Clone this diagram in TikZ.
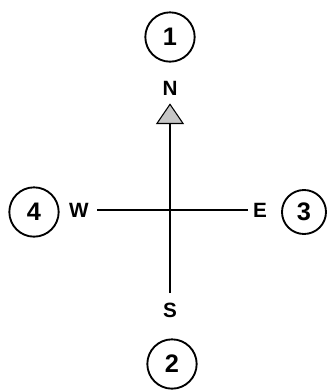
\documentclass[tikz,border=0pt]{standalone}
\usepackage{fontspec}
\setsansfont{Liberation Sans}
\usetikzlibrary{arrows.meta}

\begin{document}
\begin{tikzpicture}[
  x=0.75pt, y=-0.75pt,
  marker/.style={circle, draw, line width=1.4pt, minimum size=37pt, inner sep=0pt,
                 font=\sffamily\bfseries\fontsize{19}{19}\selectfont},
  dir/.style={inner sep=1pt, font=\sffamily\bfseries\fontsize{15.5}{15.5}\selectfont},
  axis/.style={line width=1.1pt},
  arrow/.style={-{Triangle[length=15.5pt, width=21pt, fill=gray!45, line width=0.8pt]}, line width=1.1pt},
]
  \useasboundingbox (0,0) rectangle (329,390);

  % compass letters
  \node[dir] (N) at (170, 88)  {N};
  \node[dir] (S) at (170, 310) {S};
  \node[dir] (W) at (79, 210)  {W};
  \node[dir] (E) at (260, 210) {E};

  % numbered markers
  \node[marker] (one)   at (170, 37)  {1};
  \node[marker] (two)   at (172, 364) {2};
  \node[marker, minimum size=33pt] (three) at (304, 212) {3};
  \node[marker] (four)  at (34, 212)  {4};

  % axes
  \draw[arrow, shorten <=6pt, shorten >=5pt] (S) -- (N);
  \draw[axis, shorten <=5pt, shorten >=3pt] (W) -- (E);
\end{tikzpicture}
\end{document}
